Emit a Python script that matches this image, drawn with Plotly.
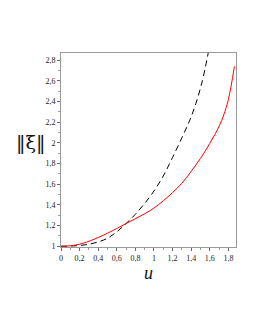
import plotly.graph_objects as go

u_red = [0, 0.1, 0.2, 0.32, 0.5, 0.7, 0.9, 1.0, 1.1, 1.2, 1.3, 1.4, 1.5, 1.6, 1.7, 1.75, 1.8, 1.865]
xi_red = [1, 1.005, 1.02, 1.055, 1.126, 1.22, 1.315, 1.37, 1.44, 1.52, 1.61, 1.725, 1.85, 1.995, 2.16, 2.27, 2.42, 2.74]

u_black = [0, 0.1, 0.2, 0.3, 0.4, 0.5, 0.6, 0.7, 0.8, 0.9, 1.0, 1.1, 1.2, 1.3, 1.385, 1.45, 1.52, 1.583]
xi_black = [1, 1.002, 1.008, 1.02, 1.042, 1.078, 1.14, 1.22, 1.31, 1.415, 1.535, 1.68, 1.86, 2.05, 2.22, 2.38, 2.6, 2.87]

x_ticks = [0, 0.2, 0.4, 0.6, 0.8, 1, 1.2, 1.4, 1.6, 1.8]
x_labels = ["0", "0,2", "0,4", "0,6", "0,8", "1", "1,2", "1,4", "1,6", "1,8"]
y_ticks = [1, 1.2, 1.4, 1.6, 1.8, 2, 2.2, 2.4, 2.6, 2.8]
y_labels = ["1", "1,2", "1,4", "1,6", "1,8", "2", "2,2", "2,4", "2,6", "2,8"]

fig = go.Figure()
fig.add_trace(go.Scatter(x=u_black, y=xi_black, mode="lines", line_shape="spline",
                         line=dict(color="black", width=1, dash="6px,4px")))
fig.add_trace(go.Scatter(x=u_red, y=xi_red, mode="lines", line_shape="spline",
                         line=dict(color="red", width=1)))

tickfont = dict(family="Liberation Serif", size=8, color="#222")
fig.update_layout(
    width=247, height=322,
    margin=dict(l=53, r=19, t=45, b=83),
    paper_bgcolor="white", plot_bgcolor="white",
    showlegend=False,
    xaxis=dict(range=[0, 1.882], tickvals=x_ticks, ticktext=x_labels, tickfont=tickfont,
               showgrid=False, zeroline=False, showline=True, linecolor="#999", linewidth=1,
               mirror=True, ticks="outside", ticklen=3, tickcolor="#666",
               minor=dict(ticks="outside", ticklen=2, dtick=0.1, tickcolor="#999")),
    yaxis=dict(range=[0.993, 2.87], tickvals=y_ticks, ticktext=y_labels, tickfont=tickfont,
               showgrid=False, zeroline=False, showline=True, linecolor="#999", linewidth=1,
               mirror=True, ticks="outside", ticklen=3, tickcolor="#666",
               minor=dict(ticks="outside", ticklen=2, dtick=0.1, tickcolor="#999")),
    annotations=[
        dict(text="<i>u</i>", xref="paper", yref="paper", x=0.5, y=-0.07, yanchor="top",
             showarrow=False, font=dict(family="Liberation Serif", size=18, color="#111")),
        dict(text="‖ξ‖", xref="paper", yref="paper", x=-0.177, y=0.54, xanchor="center",
             yanchor="middle",
             showarrow=False, font=dict(family="DejaVu Serif", size=19, color="#111")),
    ],
)
fig.write_html("out.html")
